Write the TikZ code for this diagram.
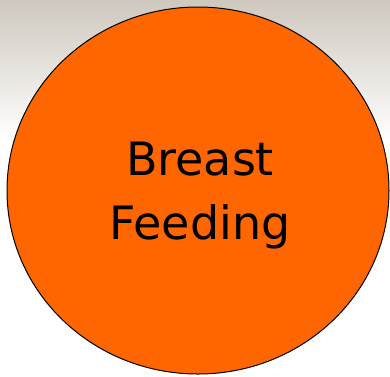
\documentclass[tikz,border=0pt]{standalone}
\usepackage{fontspec}
\setmainfont{DejaVu Sans}
\usepackage{tikz}
\usepackage{xcolor}
\usetikzlibrary{shapes.geometric, positioning, calc}
\definecolor{cOrange}{RGB}{255,102,0}
\definecolor{cTopGrey}{RGB}{206,200,190}
\tikzset{
	bubble/.style ={ellipse, draw=black, line width=1pt, fill=cOrange, minimum width=382pt, minimum height=367pt, inner sep=0pt},
	bubtext/.style={align=center, font=\fontsize{46}{64}\selectfont, text=black},
}

\begin{document}
\begin{tikzpicture}[x=1pt, y=-1pt]
	\useasboundingbox (0,0) rectangle (390,376);
	% backdrop
	\fill[white] (0,0) rectangle (390,376);
	\shade[top color=cTopGrey, bottom color=white] (0,0) rectangle (390,140);
	\node[bubble] (bf) at (198,190.5) {};
	\node[bubtext] (bft) at ($(bf.center)+(2,5)$) {Breast\\Feeding};
\end{tikzpicture}
\end{document}
